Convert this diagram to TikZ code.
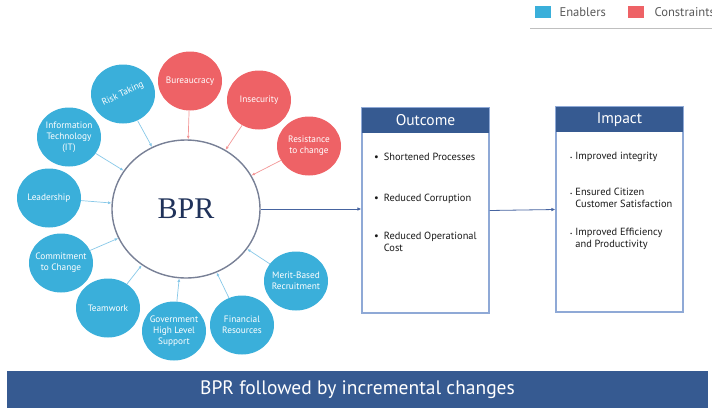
\documentclass[tikz,border=0pt]{standalone}
\usepackage{fontspec}
\setmainfont{PT Sans}
\newfontfamily\bprfont{Liberation Serif}
\usepackage{tikz}
\usetikzlibrary{calc,positioning,arrows.meta,shapes.geometric}

\definecolor{enabler}{RGB}{58,175,218}
\definecolor{constraint}{RGB}{238,98,102}
\definecolor{enablerline}{RGB}{135,200,232}
\definecolor{constraintline}{RGB}{243,150,150}
\definecolor{navy}{RGB}{54,90,145}
\definecolor{panelline}{RGB}{143,169,214}
\definecolor{bprline}{RGB}{120,128,150}
\definecolor{bprtext}{RGB}{32,50,90}
\definecolor{flowline}{RGB}{70,100,160}

\begin{document}
\begin{tikzpicture}[
    x=1pt, y=-1pt,
    bubble/.style={ellipse, minimum width=64, minimum height=59, inner sep=-12pt, align=center, text=white, font=\fontsize{9.3}{10.8}\selectfont},
    enab/.style={bubble, fill=enabler},
    cons/.style={bubble, fill=constraint},
    core/.style={ellipse, draw=bprline, line width=1.4pt, fill=white, minimum width=148, minimum height=138, inner sep=0pt, text=bprtext, font=\bprfont\fontsize{30}{30}\selectfont},
    panel/.style={rectangle, draw=panelline, line width=1.1pt, fill=white, minimum width=127, minimum height=205, inner sep=0pt},
    panelhead/.style={rectangle, fill=navy, text=white, minimum width=127, minimum height=25, inner sep=0pt, font=\fontsize{15.5}{17}\selectfont},
    item/.style={anchor=north west, inner sep=0pt, align=left, text=black!90, font=\fontsize{10.4}{12}\selectfont},
    pushin/.style={-{Latex[length=3.5pt,width=3pt]}, line width=0.7pt, draw=enablerline},
    holdback/.style={-{Latex[length=3.5pt,width=3pt]}, line width=0.7pt, draw=constraintline},
    flow/.style={-{Latex[length=4pt,width=3.5pt]}, line width=0.8pt, draw=flowline},
    key/.style={rectangle, minimum width=16, minimum height=12, inner sep=0pt},
    keytext/.style={anchor=west, text=black!65, font=\fontsize{12.6}{13}\selectfont}
]
\useasboundingbox (0,0) rectangle (712,407);

% legend
\node[key, fill=enabler] (KeyEnab) at (543,12) {};
\node[keytext] (KeyEnabText) at (556,12) {Enablers};
\node[key, fill=constraint] (KeyCons) at (636,12) {};
\node[keytext] (KeyConsText) at (651,12) {Constraints};
\draw[black!25, line width=0.6pt] (530,28) -- (712,28);

% centre and surrounding factors
\node[core] (BPR) at (186,209) {BPR};

\node[enab] (Risk) at (123,94) {\rotatebox{25}{Risk Taking}};
\node[cons] (Bureau) at (190,81) {Bureaucracy};
\node[cons] (Insecure) at (259,100) {Insecurity};
\node[cons] (Resist) at (309,146) {Resistance\\to change};
\node[enab] (InfoTech) at (69,137) {Information\\Technology\\(IT)};
\node[enab] (Lead) at (49,198) {Leadership};
\node[enab] (Commit) at (61,263) {Commitment\\to Change};
\node[enab] (Team) at (108,308) {Teamwork};
\node[enab] (Govt) at (174,331) {Government\\High Level\\Support};
\node[enab] (Finance) at (242,325) {Financial\\Resources};
\node[enab] (Merit) at (296,281) {Merit-Based\\Recruitment};

% outcome and impact panels
\node[panel] (Outcome) at (425.5,210.5) {};
\node[panelhead, anchor=north] (OutcomeHead) at (Outcome.north) {Outcome};
\node[item] (Out1) at (374,152) {\begin{tabular}{@{}l@{\hspace{5pt}}l@{}}\textbullet & Shortened Processes\end{tabular}};
\node[item] (Out2) at (374,193) {\begin{tabular}{@{}l@{\hspace{5pt}}l@{}}\textbullet & Reduced Corruption\end{tabular}};
\node[item] (Out3) at (374,231) {\begin{tabular}{@{}l@{\hspace{5pt}}l@{}}\textbullet & Reduced Operational\\ & Cost\end{tabular}};

\node[panel] (Impact) at (619.5,209.5) {};
\node[panelhead, anchor=north] (ImpactHead) at (Impact.north) {Impact};
\node[item] (Imp1) at (570,151) {\begin{tabular}{@{}l@{\hspace{3pt}}l@{}}{\tiny\textbullet} & Improved integrity\end{tabular}};
\node[item] (Imp2) at (570,187) {\begin{tabular}{@{}l@{\hspace{3pt}}l@{}}{\tiny\textbullet} & Ensured Citizen\\ & Customer Satisfaction\end{tabular}};
\node[item] (Imp3) at (570,227) {\begin{tabular}{@{}l@{\hspace{3pt}}l@{}}{\tiny\textbullet} & Improved Efficiency\\ & and Productivity\end{tabular}};

% banner
\node[rectangle, fill=navy, text=white, minimum width=701, minimum height=38, inner sep=0pt, font=\fontsize{19.5}{21}\selectfont] (Banner) at (357.5,390) {BPR followed by incremental changes};

\draw[pushin] (Risk) -- (BPR);
\draw[holdback] (Bureau) -- (BPR);
\draw[holdback] (Insecure) -- (BPR);
\draw[holdback] (Resist) -- (BPR);
\draw[pushin] (InfoTech) -- (BPR);
\draw[pushin] (Lead) -- (BPR);
\draw[pushin] (Commit) -- (BPR);
\draw[pushin] (Team) -- (BPR);
\draw[pushin] (Govt) -- (BPR);
\draw[pushin] (Finance) -- (BPR);
\draw[pushin] (Merit) -- (BPR);
\draw[flow] (BPR.east) -- (Outcome.west |- BPR.east);
\draw[flow] (Outcome.east) -- (Impact.west);
\end{tikzpicture}
\end{document}
